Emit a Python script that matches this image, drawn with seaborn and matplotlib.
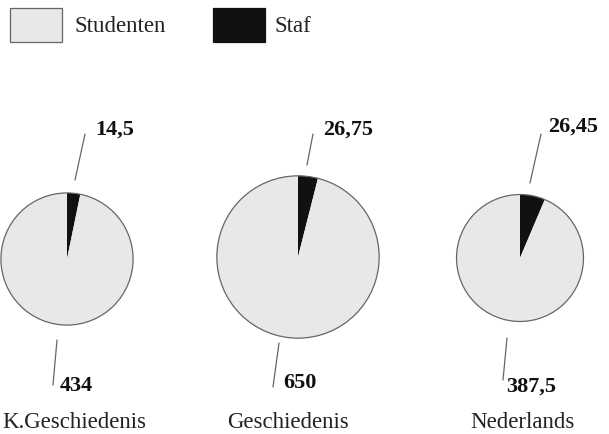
import numpy as np
import matplotlib
matplotlib.use("Agg")
import matplotlib.pyplot as plt
import seaborn as sns
from matplotlib.patches import Rectangle

# -----------------------------
# Data
# -----------------------------
vakken = ["K.Geschiedenis", "Geschiedenis", "Nederlands"]
studenten = [434, 650, 387.5]
staf = [14.5, 26.75, 26.45]
studenten_labels = ["434", "650", "387,5"]
staf_labels = ["14,5", "26,75", "26,45"]
reeksen = ["Studenten", "Staf"]

# -----------------------------
# Layout (pixels, y measured from top)
# -----------------------------
W, H = 609, 434
centers = [(67, 259), (298, 257), (520, 258)]
scale = 3.12  # radius = scale * sqrt(total)
staf_line = [((75, 180), (85, 134)), ((307, 165), (313, 134)), ((530, 183), (541, 134))]
staf_text = [(95, 130), (323, 130), (548, 127)]
stud_line = [((57, 340), (53, 385)), ((279, 343), (273, 387)), ((507, 338), (503, 380))]
stud_text = [(60, 386), (283, 383), (506, 387)]
name_x = [2, 288, 522]
name_ha = ["left", "center", "center"]
name_y = 422

sns.set_style("white")
plt.rcParams["font.family"] = ["Liberation Serif", "DejaVu Serif"]

colors = ["#e8e8e8", "#111111"]
edge = "#666666"

fig = plt.figure(figsize=(W / 100, H / 100), dpi=100)
ax = fig.add_axes([0, 0, 1, 1])


def fy(y):
    return H - y


for i, vak in enumerate(vakken):
    total = studenten[i] + staf[i]
    r = scale * np.sqrt(total)
    cx, cy = centers[i]
    ax.pie(
        [staf[i], studenten[i]],
        colors=[colors[1], colors[0]],
        startangle=90,
        counterclock=False,
        center=(cx, fy(cy)),
        radius=r,
        frame=True,
        wedgeprops=dict(linewidth=0),
    )
    circ = plt.Circle((cx, fy(cy)), r, fill=False, edgecolor=edge, linewidth=0.9)
    ax.add_patch(circ)

    (x0, y0), (x1, y1) = staf_line[i]
    ax.plot([x0, x1], [fy(y0), fy(y1)], color=edge, linewidth=0.9)
    tx, ty = staf_text[i]
    ax.text(tx, fy(ty), staf_labels[i], fontsize=16, fontweight="bold",
            ha="left", va="center", color="#111111")

    (x0, y0), (x1, y1) = stud_line[i]
    ax.plot([x0, x1], [fy(y0), fy(y1)], color=edge, linewidth=0.9)
    tx, ty = stud_text[i]
    ax.text(tx, fy(ty), studenten_labels[i], fontsize=16, fontweight="bold",
            ha="left", va="center", color="#111111")

    ax.text(name_x[i], fy(name_y), vak, fontsize=16.5, ha=name_ha[i],
            va="center", color="#222222")

# reset limits after pie calls
ax.set_xlim(0, W)
ax.set_ylim(0, H)
ax.set_aspect("equal")
ax.axis("off")

# -----------------------------
# Legend
# -----------------------------
leg_boxes = [(10, 8), (213, 8)]
leg_text_x = [75, 275]
for j, naam in enumerate(reeksen):
    bx, by = leg_boxes[j]
    ax.add_patch(Rectangle((bx, fy(by + 34)), 52, 34, facecolor=colors[j],
                           edgecolor=edge if j == 0 else colors[1], linewidth=0.9))
    ax.text(leg_text_x[j], fy(27), naam, fontsize=16.5, ha="left",
            va="center", color="#222222")

fig.savefig("out.png", dpi=100)
